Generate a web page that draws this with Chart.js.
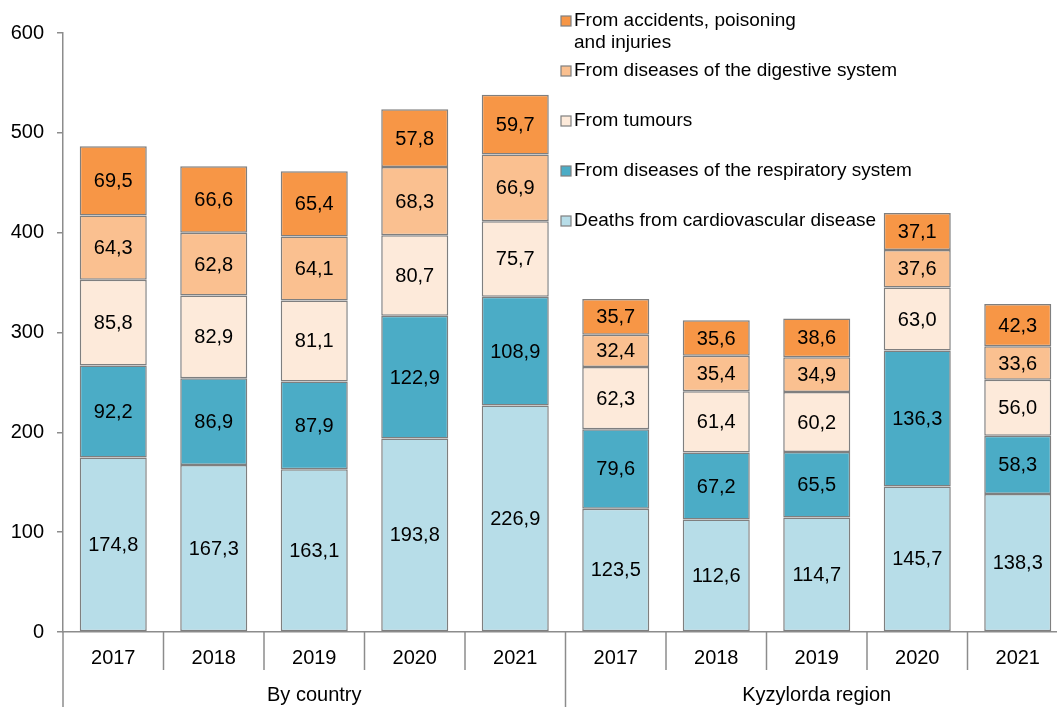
<!DOCTYPE html>
<html>
<head>
<meta charset="utf-8">
<script src="https://cdn.jsdelivr.net/npm/chart.js@4"></script>
<style>
  html, body { margin: 0; padding: 0; background: #fff; overflow: hidden; }
  #clip { width: 1057px; height: 707px; overflow: hidden; position: relative; }
  #wrap { width: 1072px; height: 707px; position: relative; }
</style>
</head>
<body>
<div id="clip"><div id="wrap"><canvas id="chart"></canvas></div></div>
<script>
const years = ['2017', '2018', '2019', '2020', '2021', '2017', '2018', '2019', '2020', '2021'];
const groups = ['By country', 'Kyzylorda region'];
const groupSize = 5;

const cardio = [174.8, 167.3, 163.1, 193.8, 226.9, 123.5, 112.6, 114.7, 145.7, 138.3];
const respiratory = [92.2, 86.9, 87.9, 122.9, 108.9, 79.6, 67.2, 65.5, 136.3, 58.3];
const tumours = [85.8, 82.9, 81.1, 80.7, 75.7, 62.3, 61.4, 60.2, 63.0, 56.0];
const digestive = [64.3, 62.8, 64.1, 68.3, 66.9, 32.4, 35.4, 34.9, 37.6, 33.6];
const accidents = [69.5, 66.6, 65.4, 57.8, 59.7, 35.7, 35.6, 38.6, 37.1, 42.3];

const FONT = '"Liberation Sans", Arial, sans-serif';
const EDGE = '#8c8c8c';

function ds(label, data, color) {
    return {
        label: label,
        data: data,
        backgroundColor: color,
        borderColor: '#7f7f7f',
        borderWidth: 1.5,
        borderSkipped: false,
        barPercentage: 0.667,
        categoryPercentage: 1
    };
}

// values written in the middle of each segment
const segmentLabels = {
    id: 'segmentLabels',
    afterDatasetsDraw(chart) {
        const ctx = chart.ctx;
        ctx.save();
        ctx.font = '20px ' + FONT;
        ctx.fillStyle = '#000';
        ctx.textAlign = 'center';
        ctx.textBaseline = 'middle';
        chart.data.datasets.forEach((d, i) => {
            chart.getDatasetMeta(i).data.forEach((bar, j) => {
                const mid = (bar.y + bar.base) / 2;
                ctx.fillText(d.data[j].toFixed(1).replace('.', ','), bar.x, mid + 1);
            });
        });
        ctx.restore();
    }
};

// category separators and group labels under the x axis
const groupAxis = {
    id: 'groupAxis',
    afterDraw(chart) {
        const ctx = chart.ctx;
        const x = chart.scales.x;
        const area = chart.chartArea;
        const step = x.getPixelForTick(1) - x.getPixelForTick(0);
        ctx.save();
        ctx.strokeStyle = EDGE;
        ctx.lineWidth = 1.5;
        for (let i = 0; i < years.length; i++) {
            const bx = x.getPixelForTick(i) - step / 2;
            const isGroup = i % groupSize === 0;
            ctx.beginPath();
            ctx.moveTo(bx, area.bottom);
            ctx.lineTo(bx, isGroup ? chart.height : area.bottom + 38);
            ctx.stroke();
        }
        ctx.font = '20px ' + FONT;
        ctx.fillStyle = '#000';
        ctx.textAlign = 'center';
        ctx.textBaseline = 'middle';
        groups.forEach((g, k) => {
            const a = x.getPixelForTick(k * groupSize);
            const b = x.getPixelForTick(k * groupSize + groupSize - 1);
            ctx.fillText(g, (a + b) / 2, 695);
        });
        ctx.restore();
    }
};

// legend in the upper right, last series on top
const sideLegend = {
    id: 'sideLegend',
    afterDraw(chart) {
        const ctx = chart.ctx;
        const rows = [21, 71, 121, 171, 221];
        ctx.save();
        ctx.font = '19px ' + FONT;
        ctx.textBaseline = 'middle';
        ctx.textAlign = 'left';
        const sets = chart.data.datasets.slice().reverse();
        sets.forEach((d, i) => {
            const y = rows[i];
            ctx.fillStyle = d.backgroundColor;
            ctx.fillRect(561, y - 5, 10, 10);
            ctx.strokeStyle = '#7f7f7f';
            ctx.lineWidth = 1.2;
            ctx.strokeRect(561, y - 5, 10, 10);
            ctx.fillStyle = '#000';
            const lines = Array.isArray(d.legendText) ? d.legendText : [d.label];
            lines.forEach((t, k) => ctx.fillText(t, 574, y + k * 22));
        });
        ctx.restore();
    }
};

const datasets = [
    ds('Deaths from cardiovascular disease', cardio, '#b7dde8'),
    ds('From diseases of the respiratory system', respiratory, '#4bacc6'),
    ds('From tumours', tumours, '#fdeada'),
    ds('From diseases of the digestive system', digestive, '#fac090'),
    ds('From accidents, poisoning and injuries', accidents, '#f79646')
];
datasets[4].legendText = ['From accidents, poisoning', 'and injuries'];

new Chart(document.getElementById('chart'), {
    type: 'bar',
    data: { labels: years, datasets: datasets },
    plugins: [segmentLabels, groupAxis, sideLegend],
    options: {
        responsive: true,
        maintainAspectRatio: false,
        animation: false,
        layout: { padding: { top: 33, right: 4, left: 0, bottom: 0 } },
        plugins: {
            legend: { display: false },
            tooltip: { enabled: false }
        },
        scales: {
            x: {
                stacked: true,
                afterFit: s => { s.height = 75; },
                grid: { display: false, drawTicks: false },
                border: { display: true, color: EDGE, width: 1.5 },
                ticks: { color: '#000', font: { size: 20, family: FONT }, padding: 14, maxRotation: 0 }
            },
            y: {
                stacked: true,
                min: 0,
                max: 600,
                afterFit: s => { s.width = 63; },
                ticks: { stepSize: 100, color: '#000', font: { size: 20, family: FONT }, padding: 13 },
                grid: { display: true, drawOnChartArea: false, tickLength: 6, color: EDGE, lineWidth: 1.5 },
                border: { display: true, color: EDGE, width: 1.5 }
            }
        }
    }
});
</script>
</body>
</html>
